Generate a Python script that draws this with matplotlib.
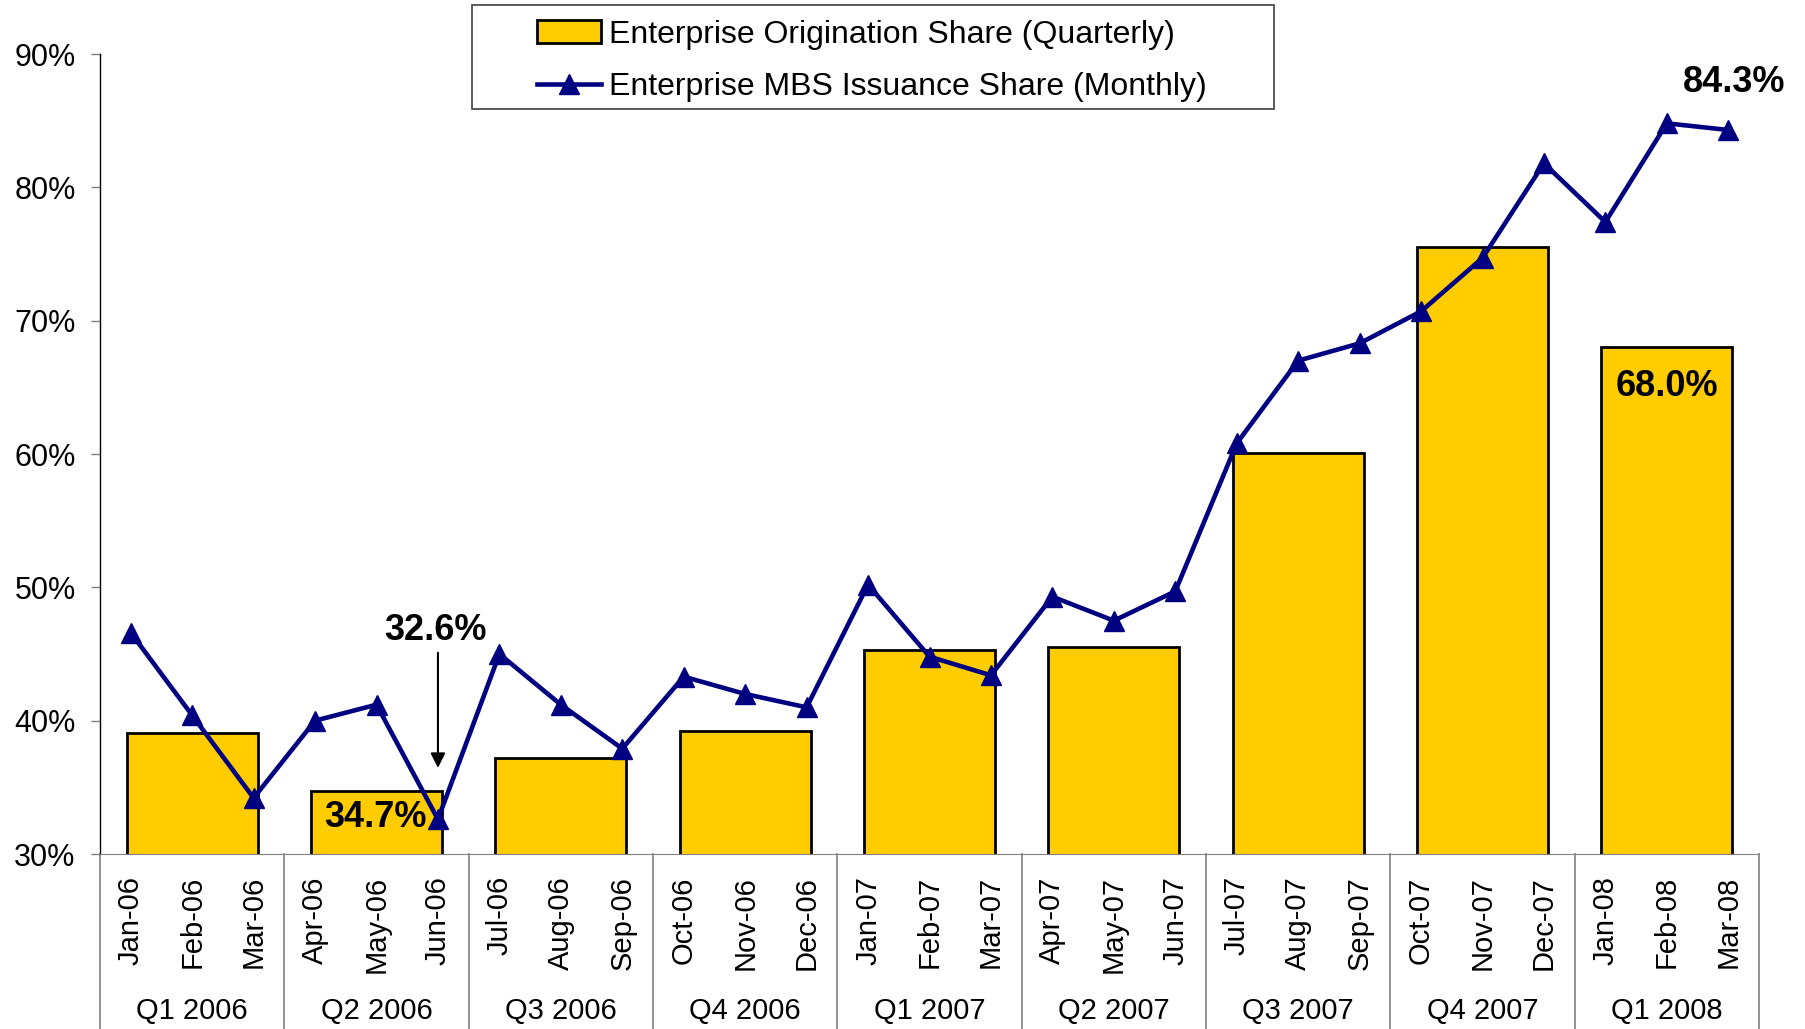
"""Enterprise origination share (quarterly bars) vs MBS issuance share (monthly line)."""
import matplotlib
matplotlib.use("Agg")
import matplotlib.pyplot as plt
from matplotlib.patches import Rectangle, Patch
from matplotlib.lines import Line2D
import numpy as np

plt.rcParams["font.family"] = ["Liberation Sans", "DejaVu Sans"]

MONTHS = ["Jan-06", "Feb-06", "Mar-06", "Apr-06", "May-06", "Jun-06",
          "Jul-06", "Aug-06", "Sep-06", "Oct-06", "Nov-06", "Dec-06",
          "Jan-07", "Feb-07", "Mar-07", "Apr-07", "May-07", "Jun-07",
          "Jul-07", "Aug-07", "Sep-07", "Oct-07", "Nov-07", "Dec-07",
          "Jan-08", "Feb-08", "Mar-08"]
QUARTERS = ["Q1 2006", "Q2 2006", "Q3 2006", "Q4 2006",
            "Q1 2007", "Q2 2007", "Q3 2007", "Q4 2007", "Q1 2008"]
# quarterly origination share, %
ORIG_SHARE = [39.1, 34.7, 37.2, 39.2, 45.3, 45.5, 60.1, 75.5, 68.0]
# monthly MBS issuance share, %
MBS_SHARE = [46.6, 40.4, 34.2, 40.0, 41.2, 32.6,
             45.0, 41.2, 37.9, 43.3, 42.0, 41.0,
             50.2, 44.8, 43.4, 49.3, 47.5, 49.7,
             60.8, 67.0, 68.3, 70.7, 74.7, 81.8,
             77.4, 84.8, 84.3]

YELLOW = "#FFCC00"
NAVY = "#000080"
GREY = "#808080"

W, H = 1805, 1029
fig = plt.figure(figsize=(W / 100, H / 100), dpi=100)
ax = fig.add_axes([100 / W, 175 / H, 1659 / W, 800 / H])

xm = np.arange(len(MONTHS))
xq = np.arange(len(QUARTERS)) * 3 + 1

ax.bar(xq, ORIG_SHARE, width=2.13, bottom=0, color=YELLOW,
       edgecolor="black", linewidth=2, zorder=2)
ax.plot(xm, MBS_SHARE, color=NAVY, lw=3.3, marker="^", ms=15,
        mec=NAVY, mfc=NAVY, zorder=3, clip_on=False)

ax.set_xlim(-0.5, len(MONTHS) - 0.5)
ax.set_ylim(30, 90)
ax.set_yticks(np.arange(30, 91, 10))
ax.set_yticklabels([f"{v}%" for v in range(30, 91, 10)])
ax.tick_params(axis="y", direction="out", length=6.5, width=1,
               color=GREY, labelsize=22, pad=11)
ax.set_xticks(xm)
ax.set_xticklabels(MONTHS, rotation=90, va="top", ha="center")
ax.tick_params(axis="x", length=0, labelsize=21, pad=16)

for s in ("top", "right"):
    ax.spines[s].set_visible(False)
ax.spines["bottom"].set_color(GREY)
ax.spines["left"].set_color("black")
ax.spines["left"].set_linewidth(1)

# quarter separators and labels below the axis
xt = ax.get_xaxis_transform()
for b in np.arange(-0.5, len(MONTHS), 3):
    ax.plot([b, b], [0, -(H - 854) / 800], transform=xt, color=GREY,
            lw=1.2, clip_on=False)
for q, lab in zip(xq, QUARTERS):
    ax.text(q, -0.196, lab, transform=xt, ha="center", va="center", fontsize=21)

# call-outs
ax.annotate(f"{MBS_SHARE[-1]:.1f}%", xy=(xm[-1], MBS_SHARE[-1]),
            xytext=(4, 34), textcoords="offset points", ha="center",
            va="center", fontsize=26, fontweight="bold")
ax.annotate(f"{ORIG_SHARE[-1]:.1f}%", xy=(xq[-1], ORIG_SHARE[-1]),
            xytext=(0, -28), textcoords="offset points", ha="center",
            va="center", fontsize=26, fontweight="bold", zorder=4)
ax.annotate(f"{ORIG_SHARE[1]:.1f}%", xy=(xq[1], ORIG_SHARE[1]),
            xytext=(-1, -19), textcoords="offset points", ha="center",
            va="center", fontsize=26, fontweight="bold", zorder=2.5)
i_min = int(np.argmin(MBS_SHARE))
ax.annotate("", xy=(xm[i_min], MBS_SHARE[i_min]), xytext=(0, 120),
            textcoords="offset points",
            arrowprops=dict(arrowstyle="-|>", color="black", lw=1.5,
                            mutation_scale=22, shrinkA=0, shrinkB=37))
ax.annotate(f"{MBS_SHARE[i_min]:.1f}%", xy=(xm[i_min], MBS_SHARE[i_min]),
            xytext=(-2, 136), textcoords="offset points", ha="center",
            va="center", fontsize=26, fontweight="bold")

# legend with its own wide frame
handles = [Patch(facecolor=YELLOW, edgecolor="black", linewidth=2),
           Line2D([], [], color=NAVY, lw=3.3, marker="^", ms=15)]
labels = ["Enterprise Origination Share (Quarterly)",
          "Enterprise MBS Issuance Share (Monthly)"]
fig.legend(handles, labels, loc="center", bbox_to_anchor=(872 / W, 1 - 61 / H),
           frameon=False, fontsize=23, handlelength=2.0, handletextpad=0.25,
           labelspacing=0.7, borderpad=0)
fig.patches.append(Rectangle((472 / W, 1 - 109 / H), 802 / W, 104 / H,
                             transform=fig.transFigure, fill=False,
                             edgecolor="#404040", lw=1.2))

fig.savefig("out.png", dpi=100)
